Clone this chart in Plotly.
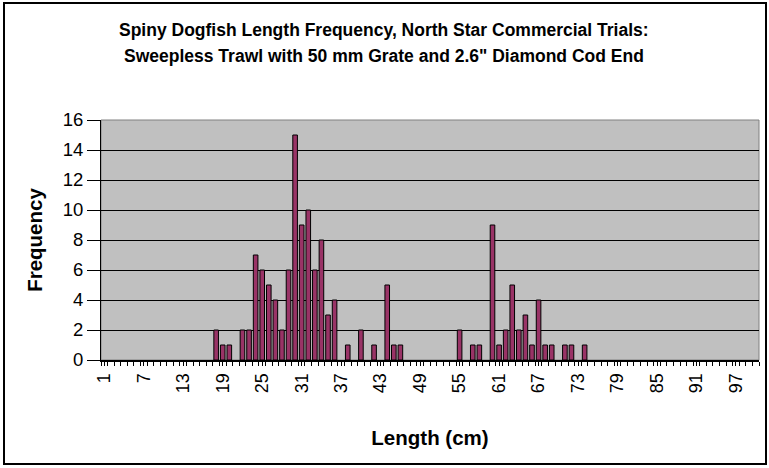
import plotly.graph_objects as go

# Data
length_cm = [18, 19, 20, 22, 23, 24, 25, 26, 27, 28, 29, 30, 31, 32, 33, 34, 35, 36, 38,
             40, 42, 44, 45, 46, 55, 57, 58, 60, 61, 62, 63, 64, 65, 66, 67, 68, 69, 71, 72, 74]
frequency = [2, 1, 1, 2, 2, 7, 6, 5, 4, 2, 6, 15, 9, 10, 6, 8, 3, 4, 1,
             2, 1, 5, 1, 1, 2, 1, 1, 9, 1, 2, 5, 2, 3, 1, 4, 1, 1, 1, 1, 1]
tick_lengths = list(range(1, 98, 6))
tick_text = [str(v) for v in tick_lengths]
y_ticks = list(range(0, 17, 2))

title_line1 = "Spiny Dogfish Length Frequency, North Star Commercial Trials:"
title_line2 = "Sweepless Trawl with 50 mm Grate and 2.6\" Diamond Cod End"

fig = go.Figure()
fig.add_trace(go.Bar(
    x=length_cm, y=frequency, width=0.7,
    marker=dict(color="#993366", line=dict(color="black", width=1)),
    showlegend=False,
))

W, H = 769, 468
L, R, T, B = 101, 10, 120, 108
pw, ph = W - L - R, H - T - B

def px_x(px):
    return (px - L) / pw

def px_y(py):
    return (H - B - py) / ph

fig.update_layout(
    width=W, height=H,
    margin=dict(l=L, r=R, t=T, b=B, autoexpand=False),
    paper_bgcolor="white",
    plot_bgcolor="#C0C0C0",
    font=dict(family="Liberation Sans, Arial, sans-serif", color="black", size=17),
    bargap=0.3,
    xaxis=dict(
        range=[0.5, 100.5], automargin=False,
        tickmode="array", tickvals=tick_lengths, ticktext=tick_text,
        tickangle=-90, tickfont=dict(size=18),
        ticks="outside", ticklen=4, tickcolor="black",
        minor=dict(tickmode="linear", tick0=0.5, dtick=1, ticks="outside",
                   ticklen=4, tickcolor="black", tickwidth=1),
        showline=True, linecolor="black", linewidth=2,
        showgrid=False, zeroline=False,
        title=dict(text="<b>Length (cm)</b>", font=dict(size=20.5), standoff=38),
    ),
    yaxis=dict(
        range=[0, 16], automargin=False, tickmode="array", tickvals=y_ticks,
        ticks="outside", ticklen=13, tickcolor="black", tickfont=dict(size=18.5),
        showline=True, linecolor="black", linewidth=1,
        showgrid=True, gridcolor="black", gridwidth=1, zeroline=False,
        title=dict(text="<b>Frequency</b>", font=dict(size=20.5), standoff=14),
    ),
    shapes=[
        dict(type="rect", xref="paper", yref="paper", x0=0, x1=1, y0=0, y1=1,
             line=dict(color="#808080", width=1), layer="below"),
        dict(type="rect", xref="paper", yref="paper",
             x0=px_x(4), x1=px_x(766), y0=px_y(464), y1=px_y(3),
             line=dict(color="black", width=2), layer="above"),
    ],
    annotations=[
        dict(text="<b>" + title_line1 + "</b>", xref="paper", yref="paper",
             x=px_x(384), y=px_y(30), showarrow=False, font=dict(size=17.5),
             xanchor="center", yanchor="middle"),
        dict(text="<b>" + title_line2 + "</b>", xref="paper", yref="paper",
             x=px_x(384), y=px_y(56), showarrow=False, font=dict(size=17.5),
             xanchor="center", yanchor="middle"),
    ],
)

fig.write_html("out.html", config={"displayModeBar": False},
               post_script="document.body.style.margin='0';")
